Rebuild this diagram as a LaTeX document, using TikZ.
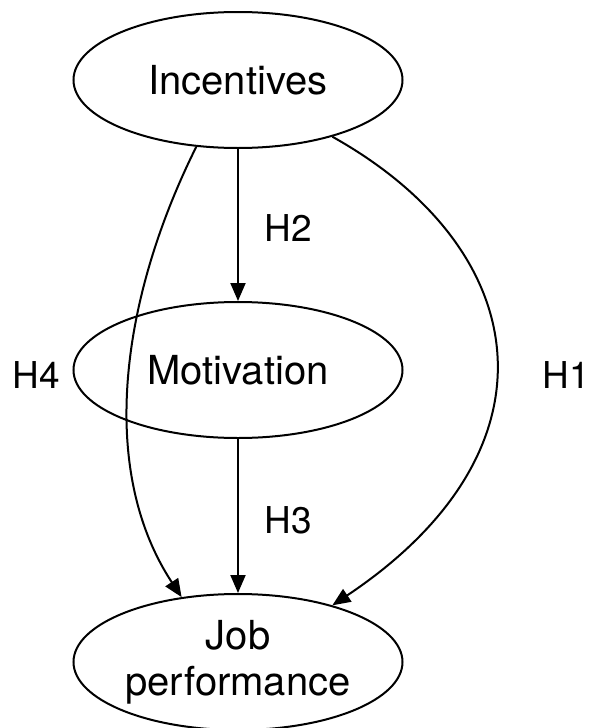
\documentclass[tikz,border=0pt]{standalone}
\usepackage{fontspec}
\setmainfont{TeX Gyre Heros}
\usetikzlibrary{shapes.geometric,arrows.meta}
\begin{document}
\begin{tikzpicture}[x=1pt,y=-1pt,
  oval/.style={ellipse,draw,line width=2pt,minimum width=329pt,minimum height=136pt,inner sep=0pt,align=center,font=\fontsize{40}{46}\selectfont},
  lbl/.style={font=\fontsize{37}{40}\selectfont},
  conn/.style={line width=2pt,-{Triangle[length=18pt,width=15pt]}}]
\useasboundingbox (0,0) rectangle (589,728);
\node[oval] (inc) at (238,80) {Incentives};
\node[oval] (mot) at (238,370) {Motivation};
\node[oval] (job) at (238,662) {Job\\performance};
\draw[conn] (inc.south) -- (mot.north);
\draw[conn] (mot.south) -- (job.north);
\draw[conn] (inc.238) .. controls (120,300) and (98,470) .. (job.131);
\draw[conn] (inc.329) .. controls (535,250) and (565,450) .. (job.31);
\node[lbl] (h2) at (288,228) {H2};
\node[lbl] (h3) at (288,520) {H3};
\node[lbl] (h4) at (36,375) {H4};
\node[lbl] (h1) at (566,375) {H1};
\end{tikzpicture}
\end{document}
